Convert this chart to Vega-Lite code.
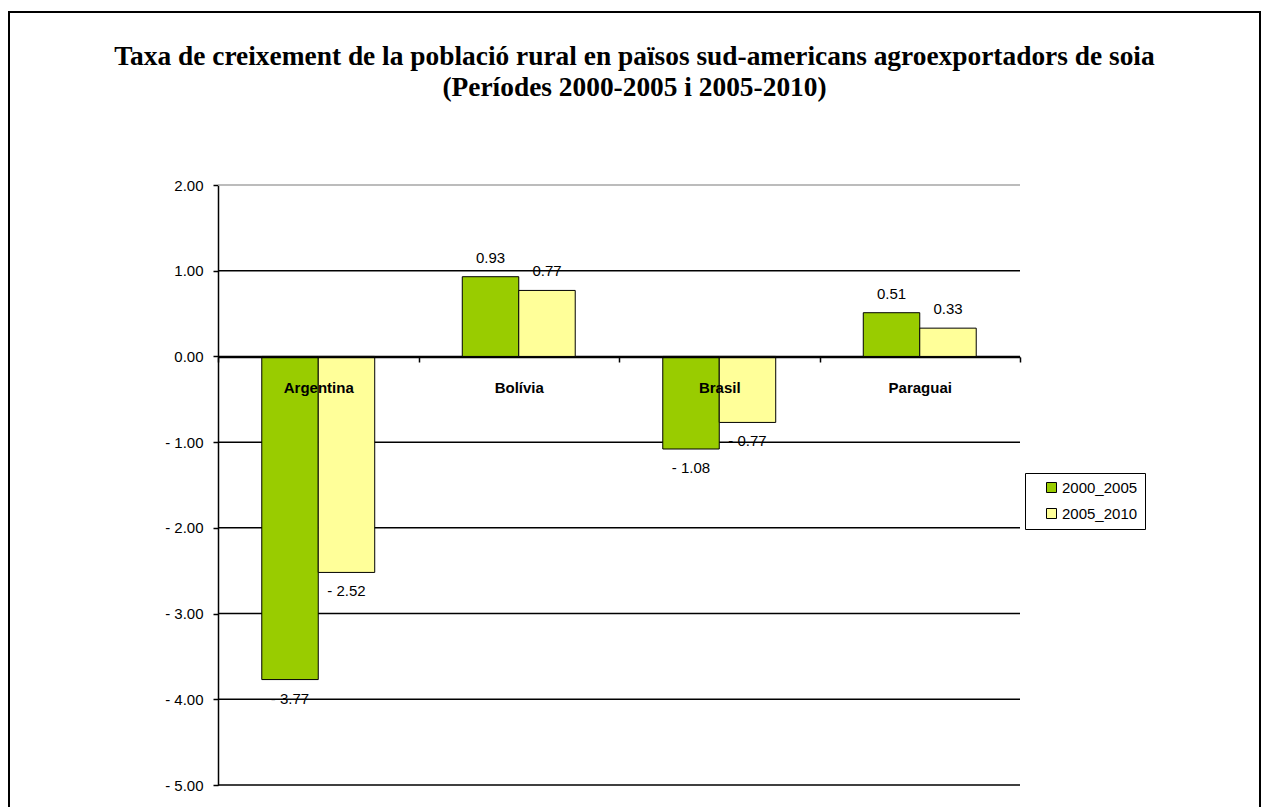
{
  "$schema": "https://vega.github.io/schema/vega-lite/v6.json",
  "width": 1251,
  "height": 800,
  "autosize": {"type": "none"},
  "padding": {"left": 9, "top": 12, "right": 1, "bottom": 0},
  "background": "white",
  "config": {
    "view": {"stroke": "black", "strokeWidth": 2},
    "font": "Liberation Sans"
  },
  "title": {
    "text": [
      "Taxa de creixement de la població rural en països sud-americans agroexportadors de soia",
      "(Períodes 2000-2005 i 2005-2010)"
    ],
    "font": "Liberation Serif",
    "fontSize": 27.4,
    "fontWeight": "bold",
    "lineHeight": 31,
    "anchor": "middle",
    "offset": -89,
    "color": "black"
  },
  "encoding": {
    "y": {
      "field": "v",
      "type": "quantitative",
      "scale": {"domain": [-5, 2], "range": [773, 173], "nice": false, "zero": false},
      "axis": {
        "orient": "left",
        "offset": -209,
        "values": [-5, -4, -3, -2, -1, 0, 1, 2],
        "grid": false,
        "title": null,
        "domainColor": "black",
        "domainWidth": 1.5,
        "tickColor": "black",
        "tickWidth": 1.5,
        "tickSize": 5,
        "labelPadding": 10,
        "labelFont": "Liberation Sans",
        "labelFontSize": 15,
        "labelColor": "black",
        "labelExpr": "datum.value < 0 ? '-  ' + format(-datum.value, '.2f') : format(datum.value, '.2f')"
      }
    }
  },
  "layer": [
    {
      "data": {"values": [{"v": 2}, {"v": 1}, {"v": 0}, {"v": -1}, {"v": -2}, {"v": -3}, {"v": -4}, {"v": -5}]},
      "mark": {"type": "rule", "strokeWidth": 1.5},
      "encoding": {
        "x": {"datum": 0, "type": "quantitative", "scale": {"domain": [0, 1], "range": [209, 1011]}, "axis": null},
        "x2": {"datum": 1},
        "color": {"condition": {"test": "datum.v == 2", "value": "#a6a6a6"}, "value": "black"}
      }
    },
    {
      "data": {
        "values": [
          {"pais": "Argentina", "periode": "2000_2005", "v": -3.77},
          {"pais": "Argentina", "periode": "2005_2010", "v": -2.52},
          {"pais": "Bolívia", "periode": "2000_2005", "v": 0.93},
          {"pais": "Bolívia", "periode": "2005_2010", "v": 0.77},
          {"pais": "Brasil", "periode": "2000_2005", "v": -1.08},
          {"pais": "Brasil", "periode": "2005_2010", "v": -0.77},
          {"pais": "Paraguai", "periode": "2000_2005", "v": 0.51},
          {"pais": "Paraguai", "periode": "2005_2010", "v": 0.33}
        ]
      },
      "transform": [
        {"calculate": "datum.v < 0 ? '-  ' + format(-datum.v, '.2f') : format(datum.v, '.2f')", "as": "label"}
      ],
      "encoding": {
        "x": {
          "field": "pais",
          "type": "nominal",
          "sort": null,
          "scale": {"range": [209, 1011], "paddingInner": 0, "paddingOuter": 0},
          "axis": {
            "orient": "bottom",
            "offset": -455,
            "tickBand": "extent",
            "title": null,
            "grid": false,
            "domainColor": "black",
            "domainWidth": 1.5,
            "tickColor": "black",
            "tickWidth": 1.5,
            "tickSize": 5,
            "labelAngle": 0,
            "labelFont": "Liberation Sans",
            "labelFontSize": 15,
            "labelFontWeight": "bold",
            "labelColor": "black",
            "labelPadding": 18,
            "zindex": 1
          }
        },
        "xOffset": {"field": "periode", "type": "nominal", "scale": {"paddingOuter": 0.775, "paddingInner": 0}}
      },
      "layer": [
        {
          "mark": {"type": "bar", "stroke": "black", "strokeWidth": 1},
          "encoding": {
            "color": {
              "field": "periode",
              "type": "nominal",
              "scale": {"domain": ["2000_2005", "2005_2010"], "range": ["#99CC00", "#FFFF99"]},
              "legend": {
                "title": null,
                "orient": "none",
                "legendX": 1016,
                "legendY": 461,
                "symbolType": "square",
                "symbolSize": 100,
                "symbolStrokeColor": "black",
                "symbolStrokeWidth": 1,
                "labelFont": "Liberation Sans",
                "labelFontSize": 15,
                "labelColor": "black",
                "labelExpr": "datum.label + '\u00a0\u00a0\u00a0'",
                "strokeColor": "black",
                "fillColor": "white",
                "padding": 7,
                "symbolOffset": 12,
                "rowPadding": 10,
                "labelOffset": 3
              }
            }
          }
        },
        {
          "transform": [{"filter": "datum.v >= 0"}],
          "mark": {"type": "text", "dy": -19, "fontSize": 15, "font": "Liberation Sans", "color": "black"},
          "encoding": {"text": {"field": "label"}}
        },
        {
          "transform": [{"filter": "datum.v < 0"}],
          "mark": {"type": "text", "dy": 19, "fontSize": 15, "font": "Liberation Sans", "color": "black"},
          "encoding": {"text": {"field": "label"}}
        }
      ]
    }
  ],
  "resolve": {"scale": {"x": "independent"}}
}
